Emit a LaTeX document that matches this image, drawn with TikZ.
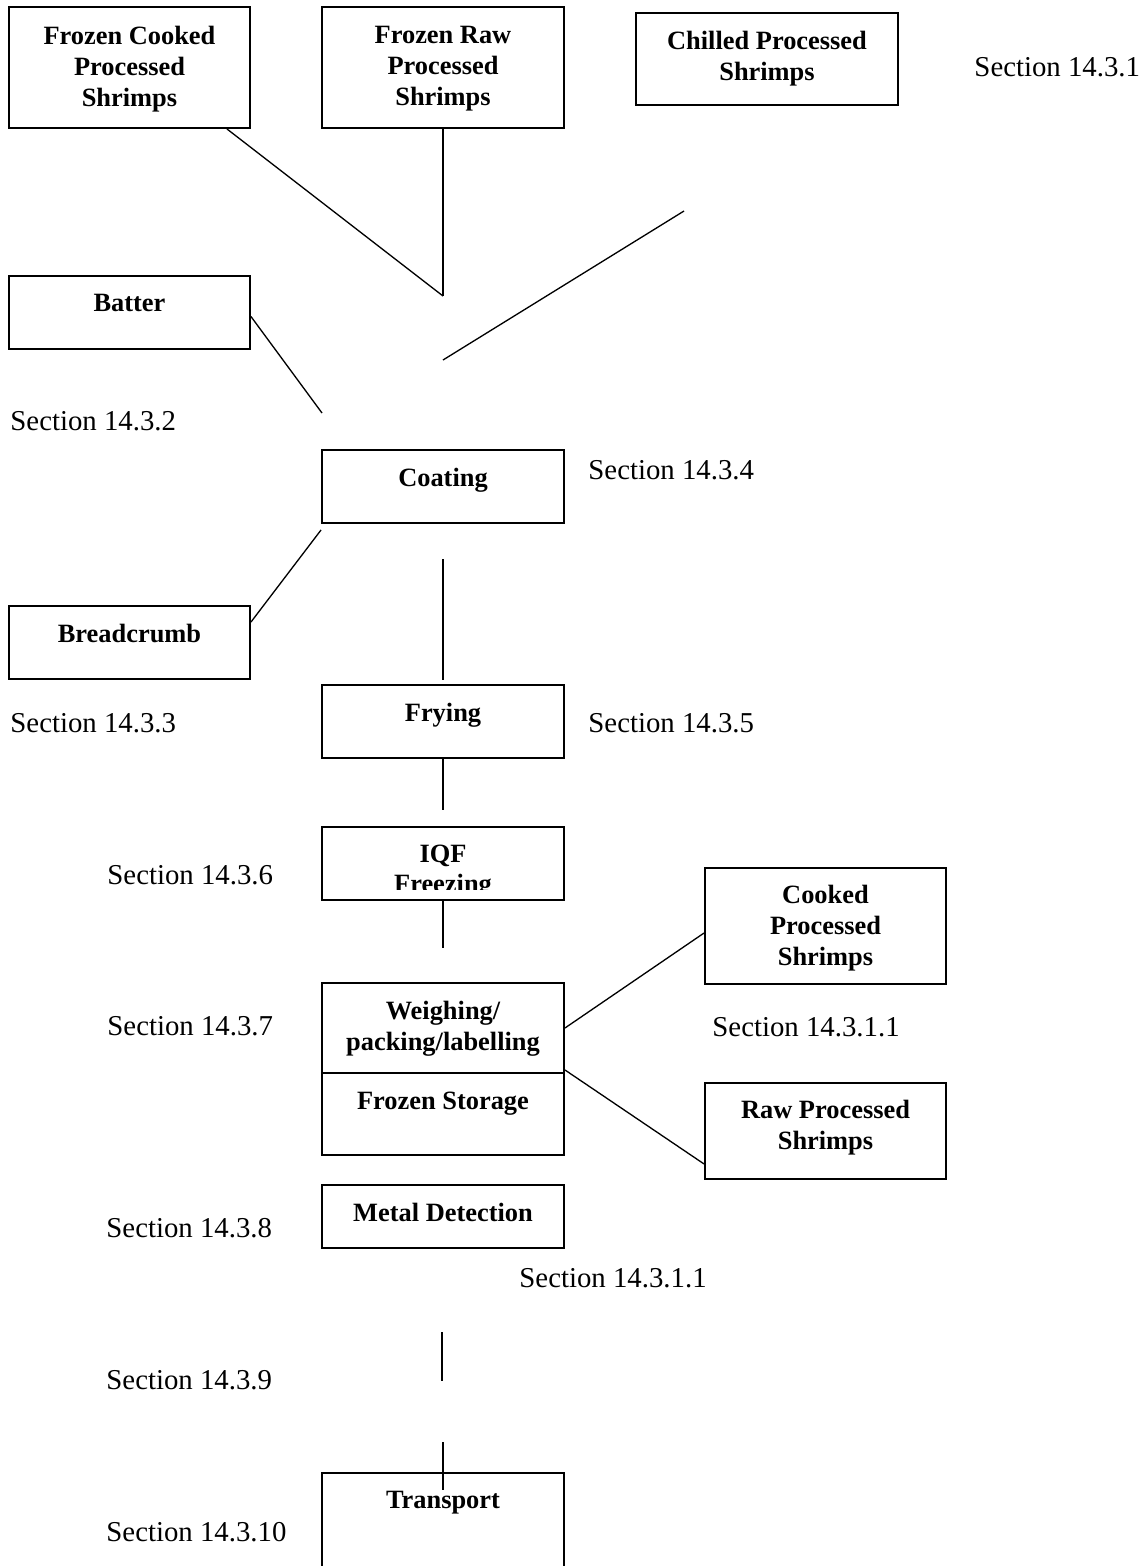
\documentclass[tikz,border=0pt]{standalone}
\usepackage{fontspec}
\setmainfont{Liberation Serif}
\usetikzlibrary{calc}
\newcommand{\pxu}{0.4167pt}
\tikzset{
  flowbox/.style 2 args={draw=black,line width=0.8pt,inner sep=0pt,minimum width=#1*\pxu,minimum height=#2*\pxu},
  boxtext/.style={font=\fontsize{11}{12.9}\selectfont\bfseries,align=center,anchor=north,inner sep=0pt},
  secref/.style={font=\fontsize{12}{14}\selectfont,anchor=west,inner sep=0pt},
  link/.style={line width=0.55pt}
}
\begin{document}
\begin{tikzpicture}[x=\pxu,y=-\pxu]
\useasboundingbox (0,0) rectangle (1140,1566);
\clip (0,0) rectangle (1140,1566);
% products on top
\node[flowbox={241}{121}] (fcps) at (129.5,67.5) {};
\node[boxtext] (fcpstxt) at ($(fcps.north)+(0,20)$) {Frozen Cooked\\Processed\\Shrimps};
\node[flowbox={242}{121}] (frps) at (443,67.5) {};
\node[boxtext] (frpstxt) at ($(frps.north)+(0,20)$) {Frozen Raw\\Processed\\Shrimps};
\node[flowbox={262}{92}] (cps) at (767,59) {};
\node[boxtext] (cpstxt) at ($(cps.north)+(0,19)$) {Chilled Processed\\Shrimps};
% ingredients
\node[flowbox={241}{73}] (batter) at (129.5,312.5) {};
\node[boxtext] (battertxt) at ($(batter.north)+(0,19)$) {Batter};
\node[flowbox={241}{73}] (bread) at (129.5,642.5) {};
\node[boxtext] (breadtxt) at ($(bread.north)+(0,19)$) {Breadcrumb};
% process steps
\node[flowbox={242}{73}] (coating) at (443,486.5) {};
\node[boxtext] (coatingtxt) at ($(coating.north)+(0,19)$) {Coating};
\node[flowbox={242}{73}] (frying) at (443,721.5) {};
\node[boxtext] (fryingtxt) at ($(frying.north)+(0,19)$) {Frying};
\node[flowbox={242}{73}] (iqf) at (443,863.5) {};
\begin{scope}
\clip (iqf.north west) rectangle ($(iqf.east)+(0,26)$);
\node[boxtext] (iqftxt) at ($(iqf.north)+(0,18)$) {IQF\\Freezing};
\end{scope}
\node[flowbox={242}{90}] (weigh) at (443,1028) {};
\node[boxtext] (weightxt) at ($(weigh.north)+(0,19)$) {Weighing/\\packing/labelling};
\node[flowbox={242}{82}] (storage) at (443,1114) {};
\node[boxtext] (storagetxt) at ($(storage.north)+(0,19)$) {Frozen Storage};
\node[flowbox={242}{63}] (metal) at (443,1216.5) {};
\node[boxtext] (metaltxt) at ($(metal.north)+(0,19)$) {Metal Detection};
\node[flowbox={242}{114}] (transport) at (443,1530) {};
\node[boxtext] (transporttxt) at ($(transport.north)+(0,19)$) {Transport};
% end products
\node[flowbox={241}{116}] (cooked) at (825.5,926) {};
\node[boxtext] (cookedtxt) at ($(cooked.north)+(0,18)$) {Cooked\\Processed\\Shrimps};
\node[flowbox={241}{96}] (raw) at (825.5,1131) {};
\node[boxtext] (rawtxt) at ($(raw.north)+(0,18)$) {Raw Processed\\Shrimps};
% section references
\node[secref] (sec1) at (974,67) {Section 14.3.1};
\node[secref] (sec2) at (10,421) {Section 14.3.2};
\node[secref] (sec4) at (588,470) {Section 14.3.4};
\node[secref] (sec3) at (10,723) {Section 14.3.3};
\node[secref] (sec5) at (588,723) {Section 14.3.5};
\node[secref] (sec6) at (107,875) {Section 14.3.6};
\node[secref] (sec7) at (107,1026) {Section 14.3.7};
\node[secref] (sec11a) at (712,1027) {Section 14.3.1.1};
\node[secref] (sec8) at (106,1228) {Section 14.3.8};
\node[secref] (sec11b) at (519,1278) {Section 14.3.1.1};
\node[secref] (sec9) at (106,1380) {Section 14.3.9};
\node[secref] (sec10) at (106,1532) {Section 14.3.10};
% connectors
\coordinate (merge) at (443,296);
\coordinate (chilledend) at (684,211);
\coordinate (chilledtip) at (443,360);
\coordinate (batterend) at (322,413);
\coordinate (fryin) at (443,559);
\coordinate (detout) at (442,1332);
\coordinate (detend) at (442,1381);
\draw[link] ($(fcps.south east)+(-24,0)$) -- (merge);
\draw[link] (frps.south) -- (merge);
\draw[link] (chilledend) -- (chilledtip);
\draw[link] ($(batter.east)+(0,4)$) -- (batterend);
\draw[link] ($(coating.south west)+(0,6)$) -- ($(bread.north east)+(0,17)$);
\draw[link] (fryin) -- ($(frying.north)+(0,-4)$);
\draw[link] (frying.south) -- ($(frying.south)+(0,51)$);
\draw[link] (iqf.south) -- ($(iqf.south)+(0,47)$);
\draw[link] (weigh.east) -- ($(cooked.west)+(0,7)$);
\draw[link] ($(weigh.south east)+(0,-4)$) -- ($(raw.south west)+(0,-16)$);
\draw[link] (detout) -- (detend);
\draw[link] ($(transport.north)+(0,-30)$) -- ($(transport.north)+(0,18)$);
\end{tikzpicture}
\end{document}
